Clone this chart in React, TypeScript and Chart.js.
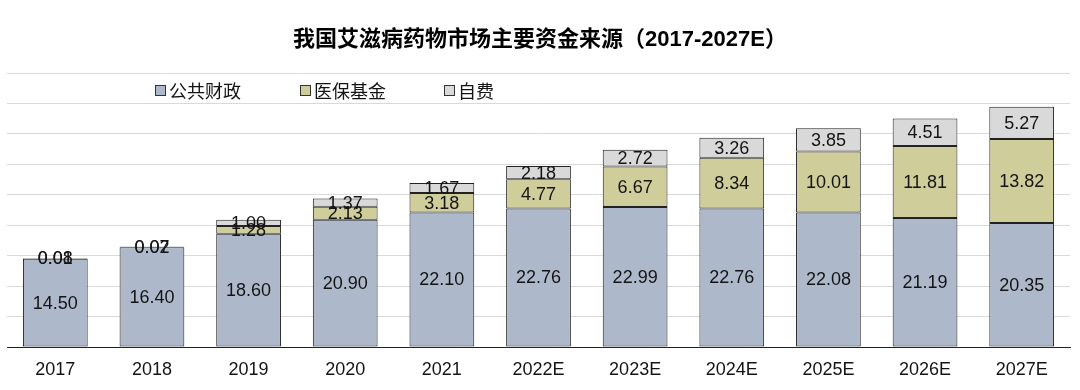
import React, { useEffect, useRef } from "react";
import { Chart, registerables } from "chart.js";

Chart.register(...registerables);

const titleText = "我国艾滋病药物市场主要资金来源（2017-2027E）";
const categories = ["2017", "2018", "2019", "2020", "2021", "2022E", "2023E", "2024E", "2025E", "2026E", "2027E"];
const seriesNames = ["公共财政", "医保基金", "自费"];
const publicFinance = [14.5, 16.4, 18.6, 20.9, 22.1, 22.76, 22.99, 22.76, 22.08, 21.19, 20.35];
const insuranceFund = [0.08, 0.07, 1.28, 2.13, 3.18, 4.77, 6.67, 8.34, 10.01, 11.81, 13.82];
const selfPay = [0.01, 0.02, 1.0, 1.37, 1.67, 2.18, 2.72, 3.26, 3.85, 4.51, 5.27];
const yMin = 0;
const yMax = 45;
const yStep = 5;

const seriesColors = ["#ADB9CA", "#CFCD9A", "#D9D9D9"];
const legendX = [155, 300, 444];

const labelsPlugin = {
  id: "segLabels",
  afterDatasetsDraw(chart: any) {
    const ctx = chart.ctx;
    ctx.save();
    ctx.font = '18px "Liberation Sans", Arial, sans-serif';
    ctx.fillStyle = "#141414";
    ctx.textAlign = "center";
    ctx.textBaseline = "middle";
    chart.data.datasets.forEach((ds: any, di: number) => {
      const meta = chart.getDatasetMeta(di);
      meta.data.forEach((bar: any, i: number) => {
        const v = ds.data[i];
        const cy = (bar.y + bar.base) / 2;
        ctx.fillText(v.toFixed(2), bar.x, cy + 1);
      });
    });
    ctx.restore();
  },
  afterDraw(chart: any) {
    const ctx = chart.ctx;
    ctx.save();
    // title
    ctx.font = 'bold 22px "Liberation Sans", "Noto Sans CJK SC", sans-serif';
    ctx.fillStyle = "#000";
    ctx.textAlign = "center";
    ctx.textBaseline = "middle";
    ctx.fillText(titleText, 540, 40);
    // legend
    ctx.font = '18px "Noto Sans CJK SC", sans-serif';
    ctx.textAlign = "left";
    seriesNames.forEach((name, i) => {
      const x = legendX[i];
      ctx.fillStyle = seriesColors[i];
      ctx.fillRect(x + 0.5, 85.5, 10, 10);
      ctx.strokeStyle = "#333";
      ctx.lineWidth = 1;
      ctx.strokeRect(x + 0.5, 85.5, 10, 10);
      ctx.fillStyle = "#141414";
      ctx.fillText(name, x + 14, 91);
    });
    ctx.restore();
  },
};

export default function App() {
  const ref = useRef<HTMLCanvasElement>(null);
  useEffect(() => {
    document.body.style.margin = "0";
    const makeDs = (label: string, data: number[], color: string) => ({
      label,
      data,
      backgroundColor: color,
      borderColor: "#222",
      borderWidth: 1,
      borderSkipped: false,
      barPercentage: 0.67,
      categoryPercentage: 1,
    });
    const chart = new Chart(ref.current as HTMLCanvasElement, {
      type: "bar",
      data: {
        labels: categories,
        datasets: [
          makeDs(seriesNames[0], publicFinance, seriesColors[0]),
          makeDs(seriesNames[1], insuranceFund, seriesColors[1]),
          makeDs(seriesNames[2], selfPay, seriesColors[2]),
        ],
      },
      options: {
        responsive: false,
        animation: false,
        layout: { padding: { top: 73, left: 7, right: 10, bottom: 0 } },
        plugins: {
          legend: { display: false },
          title: { display: false },
          tooltip: { enabled: false },
        },
        scales: {
          x: {
            stacked: true,
            grid: { display: false, drawTicks: false },
            border: { display: true, color: "#222", width: 1 },
            ticks: {
              color: "#141414",
              padding: 12,
              font: { family: '"Liberation Sans", Arial, sans-serif', size: 18 },
              maxRotation: 0,
              autoSkip: false,
            },
            afterFit(scale: any) {
              scale.height = 43;
            },
          },
          y: {
            stacked: true,
            min: yMin,
            max: yMax,
            ticks: { display: false, stepSize: yStep },
            grid: { color: "#D9D9D9", lineWidth: 1, drawTicks: false },
            border: { display: false },
            afterFit(scale: any) {
              scale.width = 0;
            },
          },
        },
      },
      plugins: [labelsPlugin],
    });
    return () => chart.destroy();
  }, []);
  return (
    <div style={{ width: 1080, height: 390, background: "#fff" }}>
      <canvas ref={ref} width={1080} height={390} />
    </div>
  );
}
